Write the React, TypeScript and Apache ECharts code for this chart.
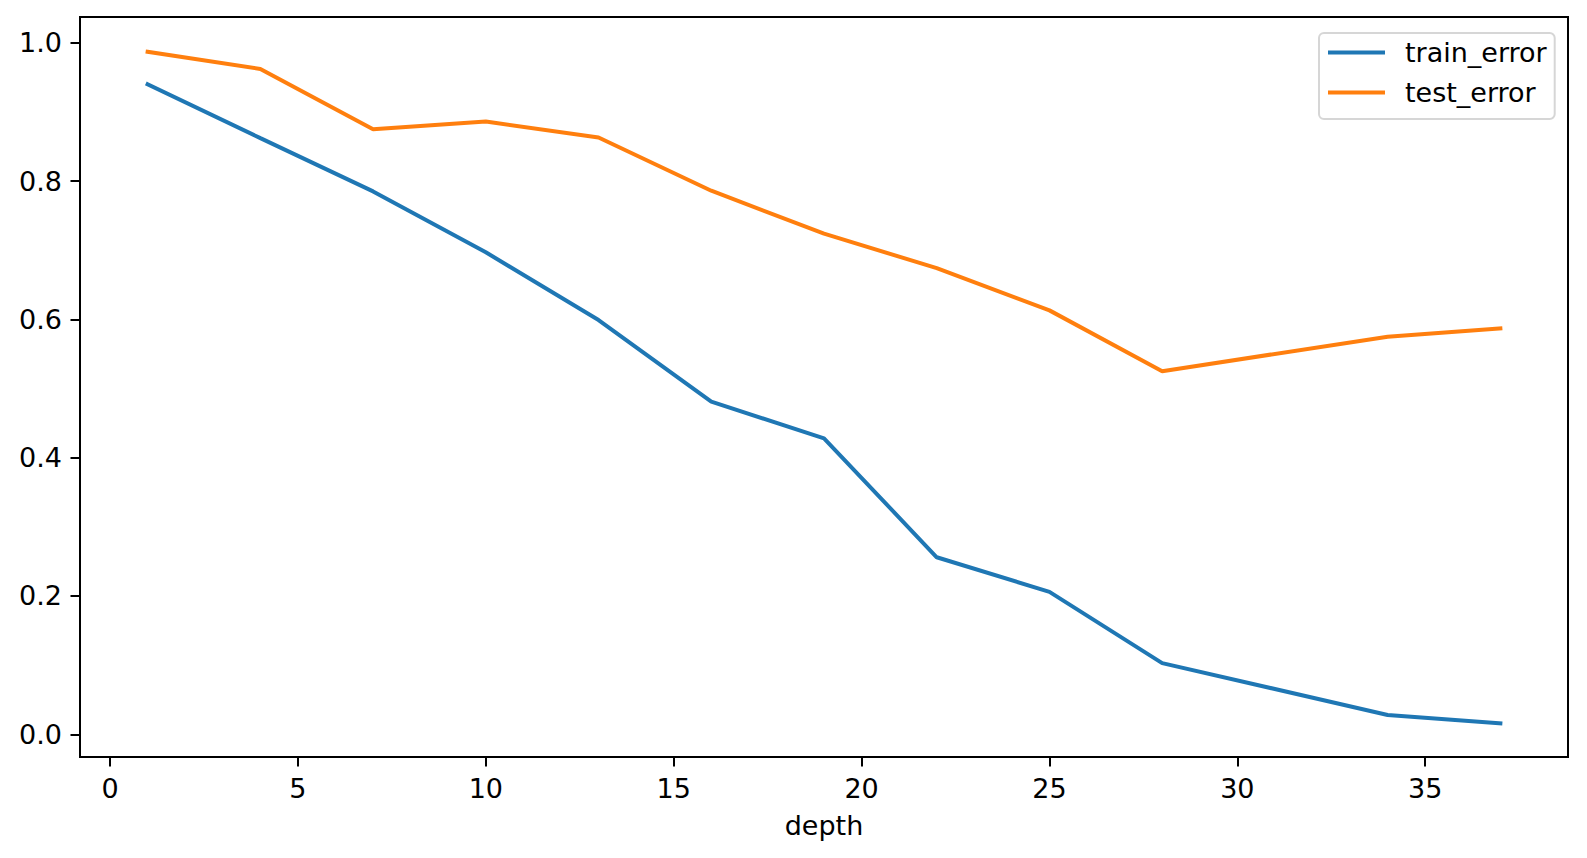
import React, { useEffect, useRef } from "react";
import * as echarts from "echarts";

const depth = [1, 4, 7, 10, 13, 16, 19, 22, 25, 28, 34, 37];
const trainError = [0.940, 0.862, 0.785, 0.697, 0.599, 0.481, 0.428, 0.256, 0.206, 0.103, 0.028, 0.016];
const testError = [0.987, 0.962, 0.875, 0.886, 0.863, 0.786, 0.724, 0.674, 0.613, 0.525, 0.575, 0.587];
const xTicks = [0, 5, 10, 15, 20, 25, 30, 35];
const yTicks = [0, 0.2, 0.4, 0.6, 0.8, 1.0];
const seriesNames = ["train_error", "test_error"];

const FONT = "DejaVu Sans";
const FS = 27;

export default function App() {
  const ref = useRef<HTMLDivElement>(null);
  useEffect(() => {
    if (!ref.current) return;
    const chart = echarts.init(ref.current, null, { renderer: "svg" });
    const toPairs = (ys: number[]) => depth.map((x, i) => [x, ys[i]]);
    chart.setOption({
      animation: false,
      backgroundColor: "#ffffff",
      textStyle: { fontFamily: FONT, color: "#000" },
      grid: {
        left: 80,
        top: 17,
        width: 1488,
        height: 740,
        show: true,
        borderColor: "#000",
        borderWidth: 2,
        backgroundColor: "transparent",
      },
      legend: {
        show: true,
        orient: "vertical",
        left: 1319,
        top: 33,
        padding: [6, 8, 13, 9],
        itemGap: 13,
        itemWidth: 57,
        itemHeight: 4,
        icon: "rect",
        selectedMode: false,
        backgroundColor: "rgba(255,255,255,0.8)",
        borderColor: "#d6d6d6",
        borderWidth: 2,
        borderRadius: 5,
        data: seriesNames,
        formatter: (name: string) => `{a|${name}}`,
        textStyle: {
          fontFamily: FONT,
          fontSize: FS,
          color: "#000",
          rich: {
            a: { fontFamily: FONT, fontSize: FS, color: "#000", lineHeight: 30, padding: [0, 0, 0, 15] },
          },
        },
      },
      xAxis: {
        type: "value",
        min: -0.8,
        max: 38.8,
        name: "depth",
        nameLocation: "middle",
        nameGap: 55,
        nameTextStyle: { fontFamily: FONT, fontSize: FS, color: "#000" },
        axisLine: { show: true, onZero: false, lineStyle: { color: "#000", width: 2 } },
        axisTick: { show: true, length: 9.5, lineStyle: { color: "#000", width: 2 }, customValues: xTicks },
        axisLabel: {
          show: true,
          margin: 18,
          fontFamily: FONT,
          fontSize: FS,
          color: "#000",
          customValues: xTicks,
          formatter: (v: number) => String(v),
        },
        splitLine: { show: false },
      },
      yAxis: {
        type: "value",
        min: -0.0328,
        max: 1.0372,
        axisLine: { show: true, onZero: false, lineStyle: { color: "#000", width: 2 } },
        axisTick: { show: true, length: 9.5, lineStyle: { color: "#000", width: 2 }, customValues: yTicks },
        axisLabel: {
          show: true,
          margin: 18,
          fontFamily: FONT,
          fontSize: FS,
          color: "#000",
          customValues: yTicks,
          formatter: (v: number) => v.toFixed(1),
        },
        splitLine: { show: false },
      },
      series: [
        {
          name: seriesNames[0],
          type: "line",
          data: toPairs(trainError),
          symbol: "none",
          color: "#1f77b4",
          lineStyle: { color: "#1f77b4", width: 4, cap: "square" },
        },
        {
          name: seriesNames[1],
          type: "line",
          data: toPairs(testError),
          symbol: "none",
          color: "#ff7f0e",
          lineStyle: { color: "#ff7f0e", width: 4, cap: "square" },
        },
      ],
    });
    return () => chart.dispose();
  }, []);
  return (
    <div
      ref={ref}
      style={{ position: "fixed", left: 0, top: 0, width: 1587, height: 858, background: "#fff" }}
    />
  );
}
